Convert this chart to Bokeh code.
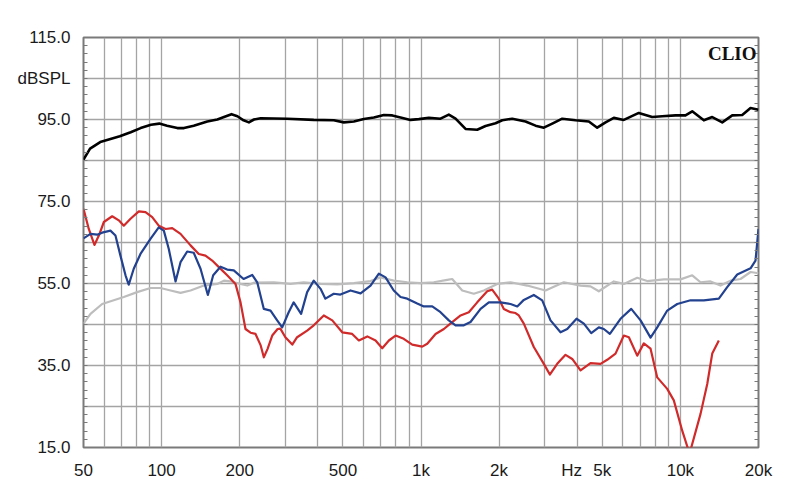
from bokeh.plotting import figure
from bokeh.models import FixedTicker, LinearAxis, Label, Range1d, PrintfTickFormatter
from bokeh.embed import file_html
from bokeh.resources import INLINE

# ---- data (frequency in Hz, level in dB SPL) ----
black_freq = [50, 53, 58, 64, 69, 76, 83, 91, 98, 105, 115, 122, 133, 150, 164, 174, 186, 196, 207, 217,
              227, 241, 305, 386, 461, 504, 551, 602, 658, 719, 775, 834, 911, 981, 1072, 1189, 1280, 1359,
              1485, 1647, 1773, 1938, 2057, 2248, 2529, 2764, 2975, 3206, 3503, 3942, 4436, 4778, 5146,
              5537, 6052, 6912, 7785, 8508, 9575, 10460, 11106, 12310, 13265, 14497, 15840, 17310, 18636, 20000]
black_db = [85.2, 87.9, 89.5, 90.3, 90.9, 91.9, 92.9, 93.7, 94.0, 93.5, 92.9, 92.9, 93.5, 94.5, 95.0, 95.6,
            96.3, 95.8, 94.8, 94.3, 95.0, 95.3, 95.2, 94.9, 94.8, 94.3, 94.5, 95.1, 95.5, 96.1, 96.0, 95.5,
            94.9, 95.1, 95.4, 95.2, 96.2, 95.2, 92.7, 92.5, 93.4, 94.1, 94.8, 95.2, 94.5, 93.5, 93.0, 94.0,
            95.2, 94.8, 94.5, 93.0, 94.3, 95.4, 94.9, 96.6, 95.6, 95.8, 96.0, 96.0, 97.0, 94.8, 95.6, 94.3,
            96.0, 96.1, 97.8, 97.4]

red_freq = [50, 52.4, 55.1, 57.3, 59.9, 64.5, 68.4, 71.5, 75.9, 81.7, 86.7, 92.0, 97.5, 103.6, 109.9, 118.3,
            129.3, 139.1, 147.6, 156.7, 166.2, 179, 192.7, 201.5, 210.6, 220.2, 230.2, 241, 247.8, 256, 267,
            280, 287, 300, 319, 333, 364, 386, 422, 455, 497, 543, 576, 621, 668, 709, 752, 798, 858, 925,
            1011, 1057, 1138, 1225, 1319, 1421, 1529, 1647, 1800, 1881, 1995, 2086, 2214, 2314, 2383, 2491,
            2722, 2975, 3138, 3350, 3607, 3828, 4121, 4503, 4921, 5222, 5621, 6052, 6329, 6816, 7227, 7672,
            8141, 8896, 9431, 10162, 10846, 11956, 12690, 13265, 14064]
red_db = [73.2, 68.3, 64.4, 66.7, 70.0, 71.4, 70.4, 69.1, 70.8, 72.6, 72.4, 71.2, 69.1, 68.3, 68.5, 67.1,
          64.3, 62.2, 61.8, 60.6, 59.0, 57.0, 54.9, 50.4, 43.9, 43.0, 42.7, 39.9, 37.0, 39.0, 42.3, 43.9,
          44.0, 41.9, 40.1, 41.9, 43.5, 44.8, 47.2, 46.0, 43.1, 42.7, 41.1, 42.1, 41.1, 39.2, 41.1, 42.3,
          41.5, 40.1, 39.6, 40.3, 42.7, 43.9, 45.6, 47.2, 48.0, 50.4, 53.1, 53.5, 51.3, 48.8, 48.0, 47.8,
          47.2, 45.2, 39.5, 35.4, 32.8, 35.4, 37.6, 36.6, 33.8, 35.6, 35.4, 36.4, 37.9, 42.3, 41.9, 37.4,
          40.4, 39.1, 32.1, 29.3, 26.5, 19.1, 13.5, 23.2, 30.5, 37.9, 41.1]

blue_freq = [50, 53.2, 56.5, 59.0, 63.5, 66.4, 69.4, 72.6, 74.7, 78.1, 82.9, 90.6, 97.5, 102, 106.6, 113.2,
             118.3, 125.5, 133, 141.3, 150.8, 158.1, 168.7, 179, 189.8, 207, 223.5, 233.7, 247.8, 263, 279,
             291.7, 309, 323, 345, 364, 386, 410, 428, 461, 489, 535, 585, 639, 688, 730, 785, 834, 885,
             967, 1025, 1105, 1189, 1280, 1359, 1463, 1552, 1697, 1826, 2025, 2214, 2350, 2491, 2722, 2933,
             3157, 3450, 3662, 3977, 4244, 4531, 4847, 5067, 5347, 5876, 6463, 7021, 7672, 8141, 8896,
             9722, 10940, 12310, 14064, 15150, 16560, 18636, 19475, 20000]
blue_db = [66.0, 67.1, 66.9, 67.4, 67.9, 66.7, 61.8, 57.0, 54.7, 58.6, 62.2, 65.9, 68.7, 67.9, 63.4, 55.5,
           60.2, 62.8, 62.5, 58.6, 52.2, 57.0, 59.1, 58.4, 58.2, 56.1, 57.1, 55.3, 48.8, 48.4, 46.0, 44.3,
           48.0, 50.4, 47.6, 52.9, 55.7, 53.7, 51.3, 52.5, 52.3, 53.3, 52.6, 54.5, 57.4, 56.5, 53.3, 51.7,
           51.3, 50.1, 49.4, 49.4, 48.0, 46.0, 44.8, 44.8, 45.6, 48.8, 50.4, 50.4, 50.0, 49.4, 51.0, 52.2,
           50.9, 46.0, 43.1, 43.9, 46.4, 45.2, 42.9, 44.3, 43.9, 42.7, 46.4, 48.8, 46.0, 41.8, 44.3, 48.4,
           50.0, 50.9, 50.9, 51.3, 54.1, 57.2, 58.7, 60.6, 68.3]

grey_freq = [50, 53.2, 59.0, 65.4, 71.5, 80.5, 90.6, 99, 108.3, 118.3, 129.3, 145.5, 164, 174, 184, 201.5,
             214, 227, 271, 314, 353, 410, 475, 551, 639, 698, 785, 885, 996, 1120, 1262, 1319, 1442, 1598,
             1747, 1967, 2214, 2567, 3020, 3553, 4121, 4503, 4847, 5537, 6052, 6816, 7447, 8635, 10010,
             11106, 11956, 13065, 14280, 15605, 17050, 18636, 20000]
grey_db = [45.2, 47.6, 50.0, 50.9, 51.7, 52.9, 53.9, 53.9, 53.3, 52.7, 53.3, 54.5, 54.9, 55.7, 55.5, 54.9,
           54.5, 55.2, 55.3, 54.9, 55.3, 54.9, 54.8, 55.1, 55.6, 56.5, 55.7, 55.3, 55.1, 55.3, 55.9, 56.1,
           53.3, 52.5, 53.3, 54.9, 55.3, 54.5, 53.3, 55.3, 54.5, 54.3, 53.1, 55.5, 54.9, 56.4, 55.6, 56.0,
           56.0, 57.0, 55.3, 55.5, 54.5, 55.7, 56.1, 57.8, 57.5]

x_tick_values = [50, 100, 200, 500, 1000, 2000, 3805, 5000, 10000, 20000]
x_tick_labels = ["50", "100", "200", "500", "1k", "2k", "Hz", "5k", "10k", "20k"]
x_grid_values = [60, 70, 80, 90, 100, 200, 300, 400, 500, 600, 700, 800, 900, 1000, 2000, 3000, 4000,
                 5000, 6000, 7000, 8000, 9000, 10000]
y_tick_values = [15, 35, 55, 75, 95, 105, 115]
y_tick_labels = ["15.0", "35.0", "55.0", "75.0", "95.0", "dBSPL", "115.0"]
y_grid_values = [25, 35, 45, 55, 65, 75, 85, 95, 105]
y_minor_values = list(range(17, 115, 2))

FONT = "Liberation Sans"
GRID = "#a4a4a4"
FRAME = "#7a7a7a"

p = figure(width=800, height=504, x_axis_type="log",
           x_range=Range1d(50, 20000), y_range=Range1d(15, 115),
           output_backend="svg", toolbar_location=None,
           min_border_left=83, min_border_right=42, min_border_top=37, min_border_bottom=57)
p.background_fill_color = "white"
p.border_fill_color = "white"
p.outline_line_color = FRAME
p.outline_line_width = 2

# grids
p.xgrid.ticker = FixedTicker(ticks=x_grid_values)
p.ygrid.ticker = FixedTicker(ticks=y_grid_values)
for g in (p.xgrid, p.ygrid):
    g.grid_line_color = GRID
    g.grid_line_width = 1.3

# x axis
xa = p.xaxis[0]
xa.ticker = FixedTicker(ticks=x_tick_values)
xa.major_label_overrides = {v: l for v, l in zip(x_tick_values, x_tick_labels)}
xa.major_tick_line_color = None
xa.minor_tick_line_color = None
xa.axis_line_color = None
xa.major_label_standoff = 7
xa.major_label_text_font = FONT
xa.major_label_text_font_size = "17px"
xa.major_label_text_color = "#1a1a1a"

# y axis (left)
ya = p.yaxis[0]
ya.ticker = FixedTicker(ticks=y_tick_values, minor_ticks=y_minor_values)
ya.formatter = PrintfTickFormatter(format="%.1f")
ya.major_label_overrides = {v: l for v, l in zip(y_tick_values, y_tick_labels)}
ya.major_tick_line_color = None
ya.minor_tick_in = 4
ya.minor_tick_out = 0
ya.minor_tick_line_color = FRAME
ya.axis_line_color = None
ya.major_label_standoff = 7
ya.major_label_text_font = FONT
ya.major_label_text_font_size = "17px"
ya.major_label_text_color = "#1a1a1a"

# right axis: only inward minor ticks
ra = LinearAxis(ticker=FixedTicker(ticks=[], minor_ticks=y_minor_values))
ra.major_label_text_color = None
ra.major_tick_line_color = None
ra.minor_tick_in = 4
ra.minor_tick_out = 0
ra.minor_tick_line_color = FRAME
ra.axis_line_color = None
p.add_layout(ra, "right")

# curves
p.line(grey_freq, grey_db, line_color="#bdbdbd", line_width=2.2, line_join="round")
p.line(red_freq, red_db, line_color="#d02a2a", line_width=2.2, line_join="round")
p.line(blue_freq, blue_db, line_color="#22418f", line_width=2.2, line_join="round")
p.line(black_freq, black_db, line_color="#000000", line_width=2.6, line_join="round")

p.add_layout(Label(x=19650, y=111, text="CLIO", text_align="right", text_baseline="alphabetic",
                   text_font="Liberation Serif", text_font_style="bold", text_font_size="19px",
                   text_color="#111111"))

open("out.html", "w").write(file_html(p, INLINE))
